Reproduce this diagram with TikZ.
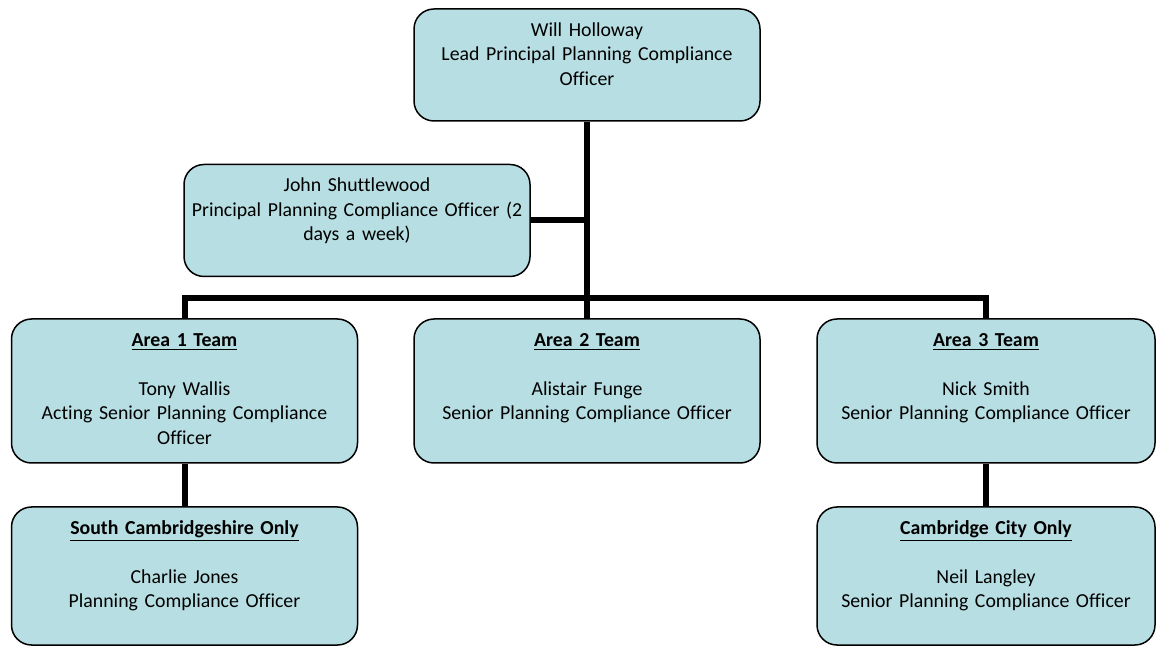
\documentclass[tikz,border=0pt]{standalone}
\usepackage{fontspec}
\setmainfont{Carlito}[Ligatures=NoCommon]
\usepackage{tikz}
\usetikzlibrary{positioning}
\definecolor{postfill}{HTML}{B7DEE2}
\tikzset{post/.style={draw,line width=0.75pt,rounded corners=10pt,fill=postfill,
    text width=171pt,align=center,inner xsep=1pt,inner ysep=0pt,text height=13.7pt}}
\tikzset{short/.style={post,text depth=42.3pt}}
\tikzset{tall/.style={post,text depth=58.3pt}}
\tikzset{low/.style={post,text depth=55.3pt}}
\tikzset{link/.style={line width=3pt}}
\newcommand\teamhead[1]{\textbf{\underline{#1}}\\[\baselineskip]}

\begin{document}
\begin{tikzpicture}[font=\fontsize{9.9}{12.25}\selectfont,on grid]
        \useasboundingbox (0,0) rectangle (578.5pt,-323pt);
        \node(boss)[short] at (293.5pt,-32.5pt){Will Holloway\\Lead Principal Planning Compliance\\Officer};
        \node(john)[short,below left=77.75pt and 115pt of boss]{John Shuttlewood\\Principal Planning Compliance Officer (2\\days a week)};
        \node(area2)[tall,below=163pt of boss]{\teamhead{Area 2 Team}Alistair Funge\\Senior Planning Compliance Officer};
        \node(area1)[tall,left=201.25pt of area2]{\teamhead{Area 1 Team}Tony Wallis\\Acting Senior Planning Compliance\\Officer};
        \node(area3)[tall,text width=167pt,right=199.5pt of area2]{\teamhead{Area 3 Team}Nick Smith\\Senior Planning Compliance Officer};
        \node(scambs)[low,below=92.5pt of area1]{\teamhead{South Cambridgeshire Only}Charlie Jones\\Planning Compliance Officer};
        \node(city)[low,text width=167pt,below=92.5pt of area3]{\teamhead{Cambridge City Only}Neil Langley\\Senior Planning Compliance Officer};
        \coordinate[below=116.5pt of boss](bus);
        \draw[link] (boss.south) -- (area2.north);
        \draw[link] (john.east) -- (john.east -| boss);
        \draw[link] (area1.north) |- (bus) -| (area3.north);
        \draw[link] (area1.south) -- (scambs.north);
        \draw[link] (area3.south) -- (city.north);
      \end{tikzpicture}
\end{document}
